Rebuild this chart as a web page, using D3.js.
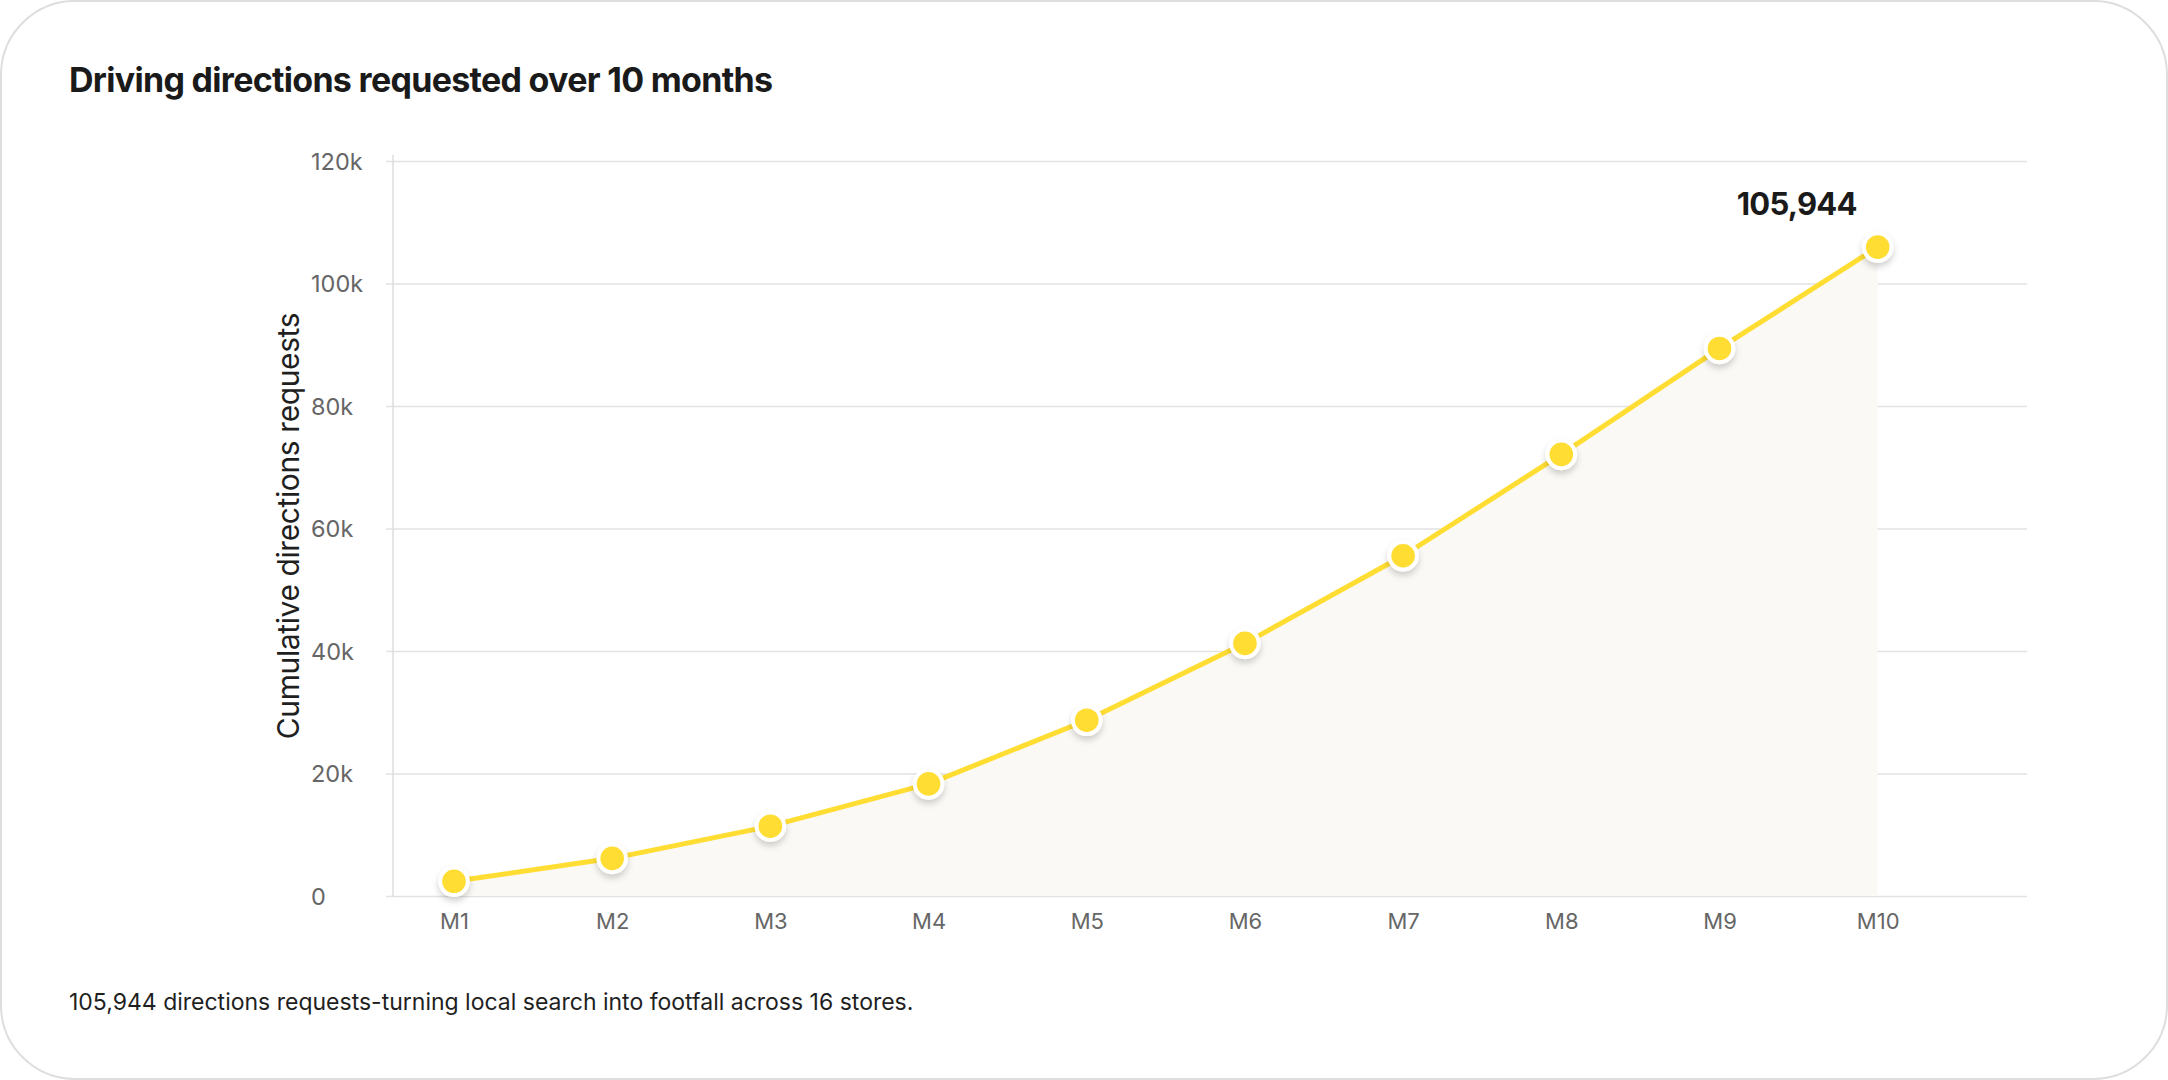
<!DOCTYPE html>
<html>
<head>
<meta charset="utf-8">
<script src="https://cdn.jsdelivr.net/npm/d3@7"></script>
<style>
  html, body { margin: 0; padding: 0; background: #ffffff; }
  svg { display: block; font-family: Inter, "Noto Sans", sans-serif; }
</style>
</head>
<body>
<svg id="chart" width="2168" height="1080"></svg>
<script>
// ---- data ----
const months = ["M1", "M2", "M3", "M4", "M5", "M6", "M7", "M8", "M9", "M10"];
const cumulativeRequests = [2400, 6150, 11400, 18300, 28700, 41250, 55550, 72100, 89400, 105944];
const yTickValues = [0, 20000, 40000, 60000, 80000, 100000, 120000];
const yTickLabels = ["0", "20k", "40k", "60k", "80k", "100k", "120k"];
const titleText = "Driving directions requested over 10 months";
const yAxisTitle = "Cumulative directions requests";
const captionText = "105,944 directions requests-turning local search into footfall across 16 stores.";
const highlightLabel = "105,944";

// ---- layout ----
const W = 2168, H = 1080;
const plot = { left: 393, right: 2027, top: 161, bottom: 896 };
const lineColor = "#FFDD33";

const svg = d3.select("#chart");

// card
svg.append("rect")
  .attr("x", 1).attr("y", 1)
  .attr("width", W - 2).attr("height", H - 2)
  .attr("rx", 74).attr("ry", 74)
  .attr("fill", "#ffffff")
  .attr("stroke", "#dedede")
  .attr("stroke-width", 2);

// shadow filter
const defs = svg.append("defs");
const f = defs.append("filter").attr("id", "dotShadow")
  .attr("x", "-60%").attr("y", "-60%").attr("width", "220%").attr("height", "220%");
f.append("feDropShadow")
  .attr("dx", 0).attr("dy", 4).attr("stdDeviation", 3)
  .attr("flood-color", "#000").attr("flood-opacity", 0.18);

// title
svg.append("text")
  .attr("x", 69).attr("y", 92)
  .attr("font-size", 34).attr("font-weight", 700)
  .attr("letter-spacing", "-0.7px")
  .attr("fill", "#1a1a1a")
  .text(titleText);

// scales
const x = d3.scalePoint()
  .domain(months)
  .range([plot.left + 61, plot.right - 149.3]);

const y = d3.scaleLinear()
  .domain([0, 120000])
  .range([plot.bottom, plot.top]);

// gridlines via axis
const gridAxis = d3.axisLeft(y)
  .tickValues(yTickValues)
  .tickSize(-(plot.right - plot.left + 7))
  .tickFormat("");
const gGrid = svg.append("g")
  .attr("transform", `translate(${plot.left - 7},0)`)
  .call(gridAxis);
gGrid.select(".domain").remove();
gGrid.selectAll(".tick line")
  .attr("stroke", "#e2e2e2")
  .attr("stroke-width", 1.6);

// y axis vertical line
svg.append("line")
  .attr("x1", plot.left).attr("x2", plot.left)
  .attr("y1", y(120000) - 6).attr("y2", y(0) + 1)
  .attr("stroke", "#e0e0e0").attr("stroke-width", 1.6);

// y tick labels (left aligned)
const yLabelAxis = d3.axisLeft(y)
  .tickValues(yTickValues)
  .tickSize(0)
  .tickFormat((d, i) => yTickLabels[i]);
const gY = svg.append("g")
  .attr("transform", `translate(311,0)`)
  .call(yLabelAxis);
gY.select(".domain").remove();
gY.selectAll(".tick text")
  .attr("text-anchor", "start")
  .attr("x", 0)
  .attr("dy", "0.36em")
  .attr("font-family", "Inter, sans-serif")
  .attr("font-size", 23.5)
  .attr("fill", "#666666");

// x tick labels
const xAxis = d3.axisBottom(x).tickSize(0).tickPadding(0);
const gX = svg.append("g")
  .attr("transform", `translate(0,${plot.bottom})`)
  .call(xAxis);
gX.select(".domain").remove();
gX.selectAll(".tick text")
  .attr("y", 33)
  .attr("dy", 0)
  .attr("font-family", "Inter, sans-serif")
  .attr("font-size", 22)
  .attr("fill", "#666666");

// y axis title
svg.append("text")
  .attr("transform", `translate(299,526) rotate(-90)`)
  .attr("text-anchor", "middle")
  .attr("font-size", 30)
  .attr("letter-spacing", "-0.4px")
  .attr("fill", "#1f1f1f")
  .text(yAxisTitle);

// area
const series = months.map((m, i) => ({ m, v: cumulativeRequests[i] }));
svg.append("path")
  .datum(series)
  .attr("fill", "#faf9f5")
  .attr("d", d3.area().x(d => x(d.m)).y0(y(0)).y1(d => y(d.v)));

// line
svg.append("path")
  .datum(series)
  .attr("fill", "none")
  .attr("stroke", lineColor)
  .attr("stroke-width", 5)
  .attr("stroke-linejoin", "round")
  .attr("d", d3.line().x(d => x(d.m)).y(d => y(d.v)));

// dots
svg.append("g").selectAll("circle")
  .data(series)
  .join("circle")
  .attr("cx", d => x(d.m))
  .attr("cy", d => y(d.v))
  .attr("r", 13.8)
  .attr("fill", lineColor)
  .attr("stroke", "#ffffff")
  .attr("stroke-width", 4)
  .attr("filter", "url(#dotShadow)");

// highlight label
const last = series[series.length - 1];
svg.append("text")
  .attr("x", x(last.m) - 81)
  .attr("y", y(last.v) - 32)
  .attr("text-anchor", "middle")
  .attr("font-size", 31)
  .attr("font-weight", 700)
  .attr("letter-spacing", "-0.8px")
  .attr("fill", "#1a1a1a")
  .text(highlightLabel);

// caption
svg.append("text")
  .attr("x", 69).attr("y", 1010)
  .attr("font-size", 23)
  .attr("fill", "#1f1f1f")
  .text(captionText);
</script>
</body>
</html>
